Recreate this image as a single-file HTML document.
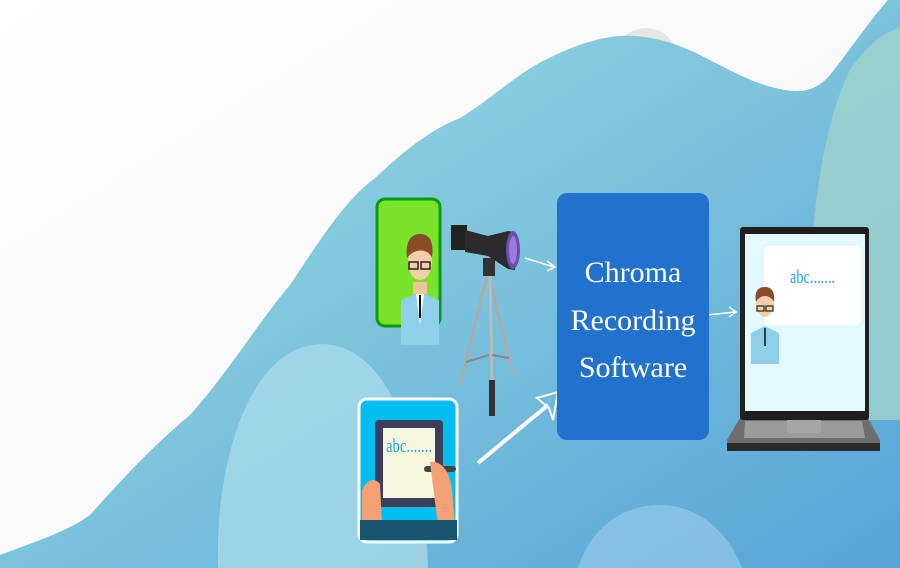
<!DOCTYPE html>
<html><head><meta charset="utf-8"><style>
html,body{margin:0;padding:0;width:900px;height:568px;overflow:hidden;background:#fff}
svg{display:block}
</style></head><body>
<svg width="900" height="568" viewBox="0 0 900 568" xmlns="http://www.w3.org/2000/svg">
<defs>
<linearGradient id="bg" x1="0" y1="0" x2="1" y2="1">
<stop offset="0" stop-color="#9fe0e2"/><stop offset="0.5" stop-color="#7cc3dc"/><stop offset="1" stop-color="#55a3d8"/>
</linearGradient>
<linearGradient id="wh" x1="0" y1="0" x2="1" y2="1"><stop offset="0" stop-color="#ffffff"/><stop offset="1" stop-color="#f4f4f4"/></linearGradient>
</defs>
<rect width="900" height="568" fill="url(#wh)"/>
<circle cx="646" cy="60" r="32" fill="#e6e6e6"/>
<path d="M0,568 L0,555 C40,540 70,530 90,515 C130,470 160,440 190,415 C230,370 260,320 290,285 C320,240 345,200 375,178 C405,150 430,130 460,118 C490,100 515,75 545,60 C580,42 610,34 635,36 C660,38 680,45 700,55 C730,70 750,82 775,88 C800,94 815,92 830,75 C850,50 870,20 888,0 L900,0 L900,568 Z" fill="url(#bg)"/>
<path d="M810,420 C805,300 810,150 850,70 C870,40 890,30 900,28 L900,420 Z" fill="#9dd0cb" opacity="0.85"/>
<path d="M218,568 C215,460 250,345 322,344 C390,345 425,450 428,568 Z" fill="#a8daea" opacity="0.8"/>
<path d="M578,568 C590,530 620,505 660,505 C700,505 730,535 742,568 Z" fill="#8ec5e6" opacity="0.8"/>

<!-- green screen -->
<rect x="377" y="199" width="63" height="127" rx="8" fill="#78e32a" stroke="#0c9a10" stroke-width="3"/>
<g>
<path d="M401,300 L420,292 L439,300 L439,345 L401,345 Z" fill="#8ed0ea"/>
<path d="M416,293 L420,325 L424,293 Z" fill="#fff"/>
<line x1="420" y1="295" x2="420" y2="318" stroke="#111" stroke-width="2"/>
<rect x="413" y="282" width="14" height="12" fill="#f2c29a"/>
<ellipse cx="420" cy="262" rx="12" ry="18" fill="#f6cfa8"/>
<path d="M407,258 C405,240 412,234 420,234 C430,234 434,242 432,258 C428,248 414,248 407,258 Z" fill="#8b4a2a"/>
<rect x="409" y="262" width="9" height="7" fill="none" stroke="#222" stroke-width="1.5"/>
<rect x="421" y="262" width="9" height="7" fill="none" stroke="#222" stroke-width="1.5"/>
</g>

<!-- camera tripod -->
<g>
<line x1="488" y1="272" x2="460" y2="385" stroke="#aaa" stroke-width="3"/>
<line x1="488" y1="272" x2="513" y2="375" stroke="#aaa" stroke-width="3"/>
<line x1="490" y1="272" x2="492" y2="380" stroke="#bbb" stroke-width="3"/>
<line x1="466" y1="362" x2="489" y2="355" stroke="#888" stroke-width="2"/>
<line x1="509" y1="358" x2="492" y2="355" stroke="#888" stroke-width="2"/>
<rect x="489" y="380" width="6" height="36" fill="#333"/>
<rect x="483" y="258" width="12" height="18" fill="#333"/>
<rect x="451" y="225" width="16" height="25" fill="#222"/>
<path d="M465,230 L488,236 L508,231 L515,232 L515,270 L508,269 L488,256 L465,252 Z" fill="#2b2b2b"/>
<ellipse cx="513" cy="250" rx="7" ry="19" fill="#6b4fb0"/>
<ellipse cx="513" cy="250" rx="4" ry="14" fill="#9a79e0"/>
</g>

<!-- arrows -->
<g stroke="#fff" fill="none" stroke-width="1.5">
<line x1="525" y1="258" x2="554" y2="267"/>
<path d="M547,261 L555,267 L547,271"/>
<line x1="707" y1="315" x2="735" y2="312"/>
<path d="M729,307 L736,312 L729,317"/>
</g>
<path d="M478,463 L548,405" stroke="#fff" stroke-width="4"/>
<path d="M537,398 L558,392 L553,420 L549,408 Z" fill="none" stroke="#fff" stroke-width="2"/>

<!-- software box -->
<rect x="557" y="193" width="152" height="247" rx="10" fill="#2271cc"/>
<g font-family="'Liberation Serif',serif" font-size="30" fill="#fff" text-anchor="middle">
<text x="633" y="282">Chroma</text>
<text x="633" y="330">Recording</text>
<text x="633" y="377">Software</text>
</g>

<!-- tablet card -->
<rect x="359" y="399" width="98" height="143" rx="8" fill="#00bdf2" stroke="#fff" stroke-width="3"/>
<rect x="375" y="420" width="68" height="87" rx="4" fill="#3d3f5a"/>
<rect x="383" y="428" width="52" height="70" fill="#f6f6df"/>
<text x="386" y="452" font-family="'Liberation Serif',serif" font-size="19" fill="#1fa8e0" textLength="46" lengthAdjust="spacingAndGlyphs">abc.......</text>
<rect x="424" y="466" width="32" height="6" rx="3" fill="#444"/>
<path d="M362,490 C368,478 375,478 380,484 L382,525 L362,530 Z" fill="#f4a275"/>
<path d="M430,462 C440,460 450,470 452,490 L455,525 L438,525 Z" fill="#f4a275"/>
<rect x="360" y="520" width="97" height="20" fill="#1a5570"/>

<!-- laptop -->
<path d="M740,418 L868,418 L880,440 L880,450 L727,450 L727,440 Z" fill="#6e6e6e"/>
<rect x="727" y="443" width="153" height="8" fill="#2a2a2a"/>
<path d="M745,421 L862,421 L865,438 L744,438 Z" fill="#9b9b9b"/>
<rect x="787" y="416" width="34" height="17" rx="2" fill="#a5a5a5"/>
<rect x="740" y="227" width="129" height="193" rx="3" fill="#1f1f1f"/>
<rect x="745" y="234" width="120" height="177" fill="#e4f9fd"/>
<rect x="764" y="246" width="97" height="79" rx="5" fill="#fff"/>
<text x="790" y="283" font-family="'Liberation Serif',serif" font-size="19" fill="#1fa8e0" textLength="45" lengthAdjust="spacingAndGlyphs">abc.......</text>
<g>
<path d="M751,333 L765,326 L779,333 L779,364 L751,364 Z" fill="#8ed0ea"/>
<line x1="765" y1="328" x2="765" y2="346" stroke="#111" stroke-width="1.5"/>
<ellipse cx="765" cy="303" rx="9" ry="14" fill="#f6cfa8"/>
<path d="M756,302 C754,290 759,287 765,287 C772,287 775,292 774,302 C770,294 760,294 756,302 Z" fill="#8b4a2a"/>
<rect x="757" y="306" width="7" height="5" fill="none" stroke="#222" stroke-width="1.2"/>
<rect x="766" y="306" width="7" height="5" fill="none" stroke="#222" stroke-width="1.2"/>
</g>
</svg>
</body></html>
